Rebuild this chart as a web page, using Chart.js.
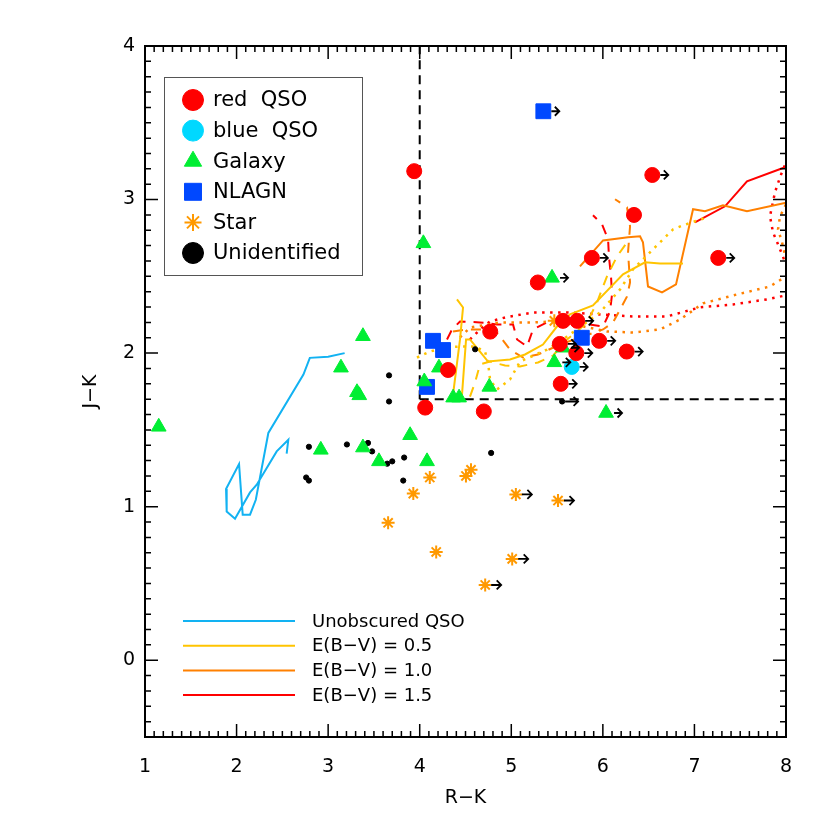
<!DOCTYPE html>
<html>
<head>
<meta charset="utf-8">
<script src="https://cdn.jsdelivr.net/npm/chart.js@4"></script>
<style>
  html, body { margin: 0; padding: 0; background: #fff; }
  canvas { display: block; }
</style>
</head>
<body>
<canvas id="chart" width="830" height="830"></canvas>
<script>
// [R-K, J-K, lim]  lim = 1 -> lower limit in R-K, drawn with an arrow
const redQso = [
  [3.94, 3.185], [4.77, 2.14], [4.31, 1.89], [4.06, 1.645], [4.70, 1.62],
  [5.29, 2.46], [5.88, 2.62, 1], [6.34, 2.90], [6.54, 3.16, 1], [7.26, 2.62, 1],
  [5.565, 2.21], [5.72, 2.21, 1], [5.53, 2.06, 1], [5.71, 2.00, 1],
  [5.96, 2.08, 1], [6.26, 2.01, 1], [5.54, 1.80, 1]
];
const blueQso = [[5.66, 1.91, 1]];
const galaxy = [
  [1.15, 1.52], [4.04, 2.715], [3.38, 2.11], [3.14, 1.905], [3.315, 1.745],
  [3.34, 1.725], [4.05, 1.815], [4.21, 1.905], [4.365, 1.71], [4.43, 1.71],
  [4.76, 1.78], [2.92, 1.37], [3.38, 1.385], [3.555, 1.295], [3.895, 1.465],
  [4.08, 1.295], [5.445, 2.49, 1], [5.47, 1.94, 1], [5.565, 2.035, 1], [6.035, 1.61, 1]
];
const nlagn = [[4.145, 2.08], [4.255, 2.02], [4.08, 1.78], [5.77, 2.10], [5.35, 3.575, 1]];
const stars = [
  [3.655, 0.895], [3.93, 1.085], [4.11, 1.19], [4.18, 0.705], [4.505, 1.20],
  [4.56, 1.24], [5.05, 1.08, 1], [5.51, 1.04, 1], [5.01, 0.66, 1], [4.715, 0.49, 1],
  [5.47, 2.21]
];
const unidentified = [
  [3.665, 1.855], [3.665, 1.685], [2.79, 1.39], [3.205, 1.405], [3.435, 1.415],
  [3.48, 1.36], [3.645, 1.28], [3.70, 1.295], [3.83, 1.32], [3.82, 1.17],
  [2.76, 1.19], [2.79, 1.17], [4.78, 1.35], [4.605, 2.025], [5.555, 1.685, 1]
];

// colour tracks [R-K, J-K]
const unobscured = [
  [3.18, 2.00], [3.00, 1.976], [2.80, 1.969], [2.73, 1.86], [2.347, 1.48],
  [2.21, 1.045], [2.147, 0.948], [2.067, 0.948], [2.027, 1.278], [1.885, 1.115],
  [1.892, 0.969], [1.983, 0.921], [2.147, 1.093], [2.22, 1.143], [2.438, 1.36],
  [2.565, 1.436], [2.547, 1.345]
];
const ebv05Solid = [
  [4.407, 2.35], [4.473, 2.297], [4.44, 2.089], [4.364, 1.73], [4.462, 1.73],
  [4.506, 2.089], [4.549, 2.089], [4.658, 2.01], [4.746, 1.945], [4.986, 1.958],
  [5.15, 1.991], [5.346, 2.056], [5.499, 2.173], [5.641, 2.252], [5.892, 2.31],
  [6.22, 2.513], [6.46, 2.591], [6.624, 2.584], [6.875, 2.584]
];
const ebv05Dashed = [
  [4.549, 1.717], [4.604, 1.808], [4.658, 1.926], [4.768, 1.945], [4.932, 1.919],
  [5.095, 1.913], [5.292, 1.939], [5.456, 1.984], [5.609, 2.089], [5.718, 2.141],
  [5.827, 2.20], [5.936, 2.33], [6.045, 2.50], [6.155, 2.63], [6.264, 2.721]
];
const ebv05Dotted = [
  [3.97, 1.971], [4.11, 2.01], [4.276, 2.037], [4.44, 2.043], [4.604, 2.043],
  [4.713, 2.01], [4.746, 1.939], [4.768, 1.828], [4.844, 1.763], [4.986, 1.828],
  [5.095, 1.945], [5.39, 2.023], [5.609, 2.108], [5.969, 2.265], [6.188, 2.415],
  [6.329, 2.545], [6.548, 2.676], [6.767, 2.806], [6.875, 2.832], [7.137, 2.884]
];
const ebv10Solid = [
  [5.75, 2.565], [6.002, 2.734], [6.275, 2.754], [6.406, 2.761], [6.438, 2.721],
  [6.493, 2.434], [6.646, 2.395], [6.799, 2.447], [6.985, 2.937], [7.116, 2.924],
  [7.312, 2.963], [7.574, 2.924], [8.0, 2.98]
];
const ebv10Dashed = [
  [4.364, 2.141], [4.517, 2.154], [4.691, 2.154], [4.844, 2.134], [4.986, 2.023],
  [5.128, 1.971], [5.292, 1.991], [5.532, 2.056], [6.002, 2.154], [6.111, 2.20],
  [6.188, 2.284], [6.264, 2.369], [6.297, 2.461], [6.275, 2.656], [6.297, 2.826],
  [6.264, 2.95], [6.133, 3.002]
];
const ebv10Dotted = [
  [4.44, 2.102], [4.549, 2.167], [4.877, 2.20], [5.237, 2.20], [5.456, 2.206],
  [5.783, 2.174], [6.045, 2.141], [6.329, 2.134], [6.624, 2.154], [6.843, 2.219],
  [7.094, 2.324], [7.465, 2.382], [7.825, 2.434], [8.0, 2.50], [8.1, 2.56],
  [8.0, 2.611], [7.957, 2.721], [7.913, 2.806], [7.935, 2.891], [8.0, 2.969], [8.1, 3.0]
];
const ebv15Solid = [[7.006, 2.852], [7.334, 2.956], [7.574, 3.119], [7.989, 3.21], [8.1, 3.24]];
const ebv15Dashed = [
  [4.298, 2.089], [4.353, 2.154], [4.44, 2.206], [4.658, 2.20], [4.844, 2.187],
  [5.019, 2.187], [5.063, 2.089], [5.172, 2.043], [5.237, 2.154], [5.39, 2.20],
  [5.696, 2.20], [6.002, 2.174], [6.078, 2.271], [6.10, 2.382], [6.089, 2.50],
  [6.067, 2.624], [6.057, 2.741], [5.991, 2.839], [5.892, 2.898]
];
const ebv15Dotted = [
  [4.549, 2.089], [4.658, 2.154], [4.768, 2.206], [4.932, 2.232], [5.237, 2.265],
  [5.609, 2.265], [5.969, 2.252], [6.329, 2.239], [6.701, 2.239], [7.061, 2.298],
  [7.422, 2.317], [7.793, 2.35], [8.0, 2.376], [8.1, 2.45], [8.0, 2.578],
  [7.935, 2.676], [7.858, 2.787], [7.825, 2.891], [7.88, 3.048], [7.935, 3.146],
  [8.0, 3.243], [8.04, 3.30]
];

// selection cut
const cutVertical = [[4, 1.7], [4, 4]];
const cutHorizontal = [[4, 1.7], [8, 1.7]];

const xTickValues = [1, 2, 3, 4, 5, 6, 7, 8];
const yTickValues = [0, 1, 2, 3, 4];

const trackLegend = [
  ['Unobscured QSO', '#12b2f2'],
  ['E(B\u2212V) = 0.5', '#ffc400'],
  ['E(B\u2212V) = 1.0', '#ff8000'],
  ['E(B\u2212V) = 1.5', '#ff0000']
];

const FONT = '"DejaVu Sans", sans-serif';
const toXY = arr => arr.map(p => ({x: p[0], y: p[1], lim: !!p[2]}));

function markers(label, data, color, style, radius, order, arrowFrom, legendRadius) {
  return {
    label, data: toXY(data), order, arrowFrom, legendRadius,
    pointStyle: style, pointRadius: radius, pointHoverRadius: radius,
    backgroundColor: color, borderColor: color, borderWidth: style === 'star' ? 2 : 1,
    showLine: false
  };
}

function track(data, color, dash, width, order) {
  return {
    label: '', data: toXY(data), order, track: true,
    showLine: true, pointRadius: 0, borderColor: color, borderWidth: width || 2,
    borderDash: dash || [], tension: 0, fill: false
  };
}

const datasets = [
  markers('red  QSO', redQso, '#ff0000', 'circle', 7.5, 1, 8, 10.5),
  markers('blue  QSO', blueQso, '#00d8ff', 'circle', 7.5, 2, 8, 10.5),
  markers('Galaxy', galaxy, '#00ee33', 'triangle', 8.5, 3, 8, 10),
  markers('NLAGN', nlagn, '#0048ff', 'rect', 10.5, 4, 8, 12),
  markers('Star', stars, '#ff9900', 'star', 6.5, 5, 6, 8.5),
  markers('Unidentified', unidentified, '#000000', 'circle', 2.6, 6, 3, 10.5),
  track(cutVertical, '#000', [9, 6], 2, 20),
  track(cutHorizontal, '#000', [9, 6], 2, 20),
  track(unobscured, '#12b2f2', [], 2, 21),
  track(ebv05Solid, '#ffc400', [], 2, 22),
  track(ebv05Dashed, '#ffc400', [10, 8], 2, 22),
  track(ebv05Dotted, '#ffc400', [2.5, 5.5], 2.5, 22),
  track(ebv10Solid, '#ff8000', [], 2, 23),
  track(ebv10Dashed, '#ff8000', [10, 8], 2, 23),
  track(ebv10Dotted, '#ff8000', [2.5, 5.5], 2.5, 23),
  track(ebv15Solid, '#ff0000', [], 2, 24),
  track(ebv15Dashed, '#ff0000', [10, 8], 2, 24),
  track(ebv15Dotted, '#ff0000', [2.5, 5.5], 2.5, 24)
];

const limitArrows = {
  id: 'limitArrows',
  afterDatasetsDraw(chart) {
    const ctx = chart.ctx;
    ctx.save();
    ctx.strokeStyle = '#000';
    ctx.lineWidth = 1.8;
    chart.data.datasets.forEach((ds, i) => {
      if (!ds.arrowFrom) return;
      chart.getDatasetMeta(i).data.forEach((el, j) => {
        if (!ds.data[j].lim) return;
        const x0 = el.x + ds.arrowFrom, x1 = el.x + 16, y = el.y;
        ctx.beginPath();
        ctx.moveTo(x0, y);
        ctx.lineTo(x1, y);
        ctx.moveTo(x1 - 4.5, y - 4.5);
        ctx.lineTo(x1, y);
        ctx.lineTo(x1 - 4.5, y + 4.5);
        ctx.stroke();
      });
    });
    ctx.restore();
  }
};

const frameTicks = {
  id: 'frameTicks',
  afterDraw(chart) {
    const {ctx, chartArea: a, scales: {x, y}} = chart;
    ctx.save();
    ctx.strokeStyle = '#000';
    ctx.lineWidth = 1.5;
    ctx.beginPath();
    for (let i = 10; i <= 80; i++) {
      const px = x.getPixelForValue(i / 10);
      const len = i % 10 === 0 ? 13 : 6;
      ctx.moveTo(px, a.bottom); ctx.lineTo(px, a.bottom - len);
      ctx.moveTo(px, a.top); ctx.lineTo(px, a.top + len);
    }
    for (let i = -5; i <= 40; i++) {
      const py = y.getPixelForValue(i / 10);
      const len = i % 10 === 0 ? 13 : 6;
      ctx.moveTo(a.left, py); ctx.lineTo(a.left + len, py);
      ctx.moveTo(a.right, py); ctx.lineTo(a.right - len, py);
    }
    ctx.stroke();
    ctx.lineWidth = 2;
    ctx.strokeRect(a.left, a.top, a.right - a.left, a.bottom - a.top);
    ctx.restore();
  }
};

const legends = {
  id: 'legends',
  afterDraw(chart) {
    const {ctx, chartArea: a} = chart;
    ctx.save();
    // symbol legend
    ctx.strokeStyle = '#555';
    ctx.lineWidth = 1;
    ctx.strokeRect(a.left + 19.5, a.top + 31.5, 198, 198);
    ctx.font = '21px ' + FONT;
    ctx.textBaseline = 'middle';
    ctx.textAlign = 'left';
    chart.data.datasets.filter(d => !d.track).forEach((d, k) => {
      const yy = a.top + 54 + k * 30.6;
      ctx.fillStyle = d.backgroundColor;
      ctx.strokeStyle = d.borderColor;
      ctx.lineWidth = d.borderWidth;
      Chart.helpers.drawPoint(ctx, {pointStyle: d.pointStyle, radius: d.legendRadius,
        borderWidth: d.borderWidth, rotation: 0}, a.left + 48, yy);
      ctx.fillStyle = '#000';
      ctx.fillText(d.label, a.left + 68, yy + 1);
    });
    // track legend
    ctx.font = '18px ' + FONT;
    trackLegend.forEach(([name, color], k) => {
      const yy = a.bottom - 116 + k * 24.7;
      ctx.strokeStyle = color;
      ctx.lineWidth = 2;
      ctx.beginPath();
      ctx.moveTo(a.left + 38, yy);
      ctx.lineTo(a.left + 150, yy);
      ctx.stroke();
      ctx.fillStyle = '#000';
      ctx.fillText(name, a.left + 167, yy + 1);
    });
    ctx.restore();
  }
};

new Chart(document.getElementById('chart'), {
  type: 'scatter',
  data: {datasets},
  options: {
    responsive: false,
    animation: false,
    events: [],
    layout: {padding: {top: 46, right: 44, left: 0, bottom: 0}},
    plugins: {legend: {display: false}, tooltip: {enabled: false}},
    scales: {
      x: {
        min: 1, max: 8,
        afterFit: s => { s.height = 93; },
        afterBuildTicks: s => { s.ticks = xTickValues.map(v => ({value: v})); },
        grid: {display: false, drawTicks: false},
        border: {display: false},
        ticks: {color: '#000', padding: 19, font: {family: FONT, size: 19}, maxRotation: 0},
        title: {display: true, text: 'R\u2212K', color: '#000', font: {family: FONT, size: 19},
          padding: {top: 0, bottom: 21}}
      },
      y: {
        min: -0.5, max: 4,
        afterFit: s => { s.width = 145; },
        afterBuildTicks: s => { s.ticks = yTickValues.map(v => ({value: v})); },
        grid: {display: false, drawTicks: false},
        border: {display: false},
        ticks: {color: '#000', padding: 10, font: {family: FONT, size: 19}},
        title: {display: true, text: 'J\u2212K', color: '#000', font: {family: FONT, size: 19},
          padding: {top: 80, bottom: 0}}
      }
    }
  },
  plugins: [limitArrows, frameTicks, legends]
});
</script>
</body>
</html>
